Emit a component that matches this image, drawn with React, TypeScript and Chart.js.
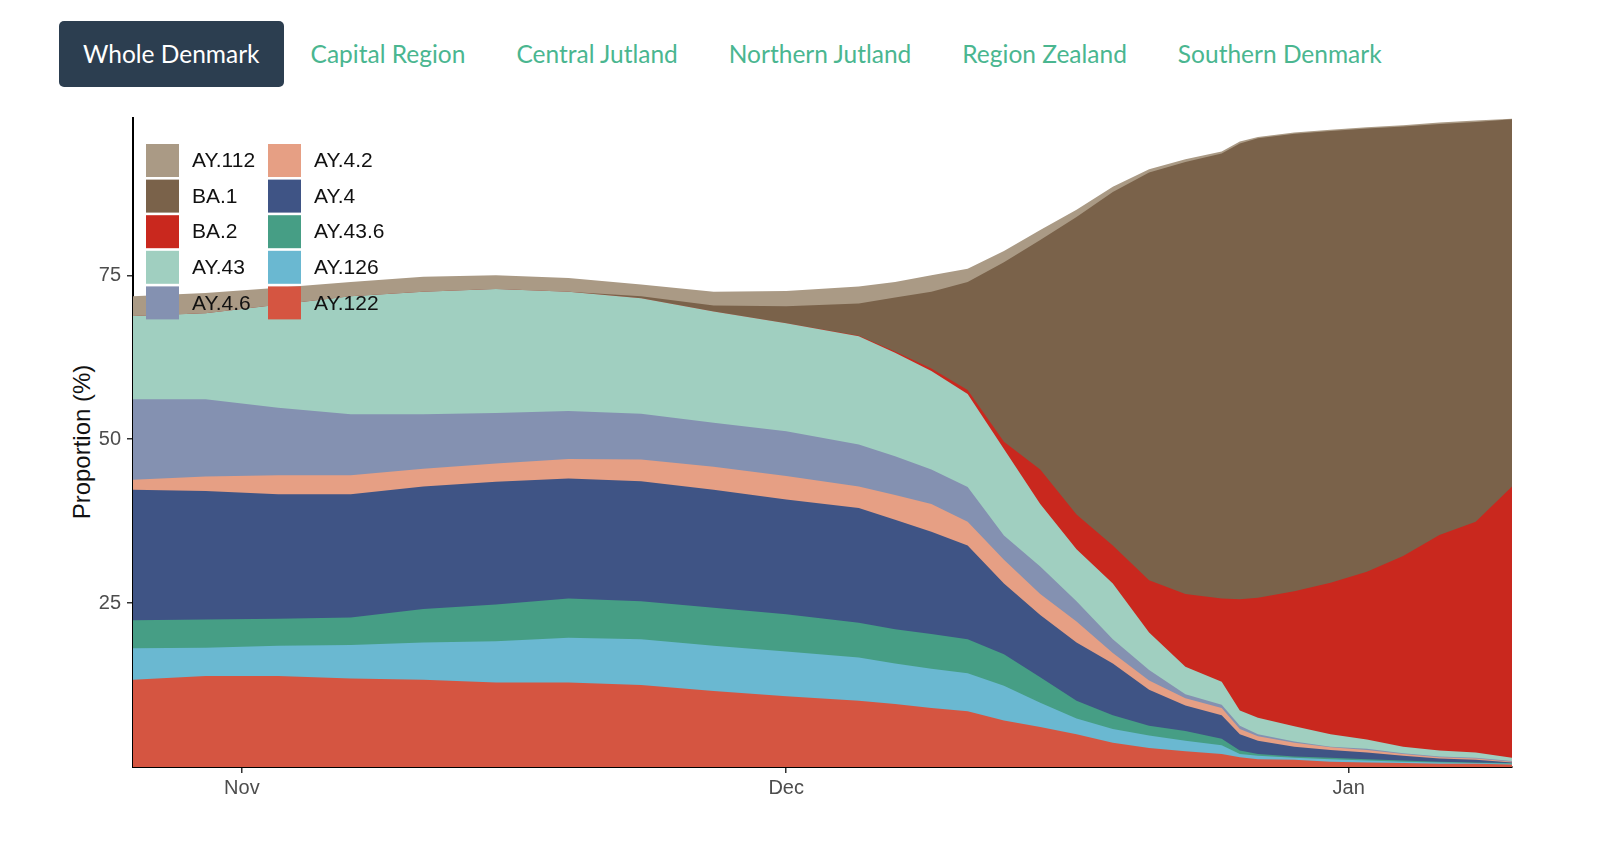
import React, { useEffect, useRef } from "react";
import { Chart, registerables } from "chart.js";

Chart.register(...registerables);

// Region selector
const regions = [
  "Whole Denmark",
  "Capital Region",
  "Central Jutland",
  "Northern Jutland",
  "Region Zealand",
  "Southern Denmark",
];

// Sampling days, counted from 1 November
const days = [-6, -2, 2, 6, 10, 14, 18, 22, 26, 30, 34, 36, 38, 40, 42, 44, 46, 48, 50, 52, 54, 55, 56, 58, 60, 62, 64, 66, 68, 70];

// Month ticks on the x axis
const monthTickDays = [0, 30, 61];
const monthTickLabels = ["Nov", "Dec", "Jan"];

// Y axis ticks (%)
const yTicks = [25, 50, 75];

// Lineage proportions (%), stacked from the bottom up
const ay122 = [13.3, 13.9, 13.9, 13.5, 13.3, 12.9, 12.9, 12.5, 11.6, 10.8, 10.1, 9.6, 9.0, 8.5, 7.1, 6.1, 5.0, 3.7, 2.9, 2.4, 2.0, 1.5, 1.2, 1.1, 0.8, 0.7, 0.6, 0.5, 0.5, 0.4];
const ay126 = [4.8, 4.3, 4.6, 5.1, 5.7, 6.3, 6.8, 7.0, 6.9, 6.8, 6.6, 6.2, 6.0, 5.8, 5.3, 3.7, 2.4, 2.1, 1.9, 1.6, 1.3, 0.5, 0.5, 0.3, 0.4, 0.3, 0.2, 0.2, 0.1, 0.1];
const ay436 = [4.3, 4.3, 4.1, 4.2, 5.1, 5.6, 6.0, 5.8, 5.8, 5.7, 5.3, 5.2, 5.3, 5.2, 4.8, 3.9, 2.7, 2.1, 1.5, 1.5, 1.0, 0.5, 0.3, 0.2, 0.2, 0.2, 0.2, 0.1, 0.1, 0.1];
const ay4 = [19.9, 19.6, 19.0, 18.8, 18.7, 18.7, 18.3, 18.3, 18.0, 17.5, 17.5, 16.7, 15.6, 14.3, 10.8, 9.5, 8.9, 7.9, 5.5, 3.9, 3.6, 2.5, 2.0, 1.5, 1.2, 1.0, 0.7, 0.5, 0.4, 0.1];
const ay42 = [1.5, 2.2, 2.9, 2.9, 2.7, 2.8, 3.0, 3.3, 3.5, 3.6, 3.3, 3.8, 4.2, 3.6, 3.6, 3.2, 3.2, 1.6, 1.4, 1.1, 1.1, 0.8, 0.7, 0.6, 0.4, 0.4, 0.3, 0.2, 0.2, 0.1];
const ay46 = [12.3, 11.8, 10.3, 9.3, 8.3, 7.7, 7.3, 7.0, 6.7, 6.8, 6.4, 5.9, 5.3, 5.3, 3.7, 4.2, 3.1, 2.1, 1.6, 0.6, 0.5, 0.5, 0.3, 0.2, 0.1, 0.2, 0.1, 0.1, 0.1, 0.1];
const ay43 = [12.7, 13.1, 15.7, 18.0, 18.7, 18.9, 18.2, 17.6, 17.0, 16.5, 16.5, 15.8, 15.0, 14.2, 13.2, 9.5, 7.9, 8.5, 5.7, 4.2, 3.5, 2.3, 2.5, 2.3, 1.9, 1.4, 1.0, 0.9, 0.8, 0.5];
const ba2 = [0, 0, 0, 0, 0, 0, 0, 0, 0, 0, 0.1, 0.2, 0.4, 0.6, 1.1, 5.3, 5.3, 5.8, 8.0, 11.1, 12.7, 17.0, 18.3, 20.6, 23.1, 25.6, 29.1, 32.9, 35.2, 41.4];
const ba1 = [0, 0, 0, 0, 0, 0, 0, 0.3, 0.9, 2.6, 4.9, 8.2, 11.7, 16.5, 27.4, 35.0, 45.4, 53.9, 62.2, 65.9, 67.9, 69.5, 70.1, 69.8, 68.9, 67.6, 65.5, 62.7, 61.0, 56.0];
const ay112 = [3.0, 3.1, 2.6, 2.2, 2.3, 2.1, 2.1, 1.8, 2.1, 2.3, 2.6, 2.4, 2.5, 2.0, 1.7, 1.5, 1.1, 0.8, 0.5, 0.4, 0.3, 0.3, 0.2, 0.2, 0.2, 0.2, 0.2, 0.2, 0.2, 0.1];

const lineageNames = ["AY.122", "AY.126", "AY.43.6", "AY.4", "AY.4.2", "AY.4.6", "AY.43", "BA.2", "BA.1", "AY.112"];
const lineageValues = [ay122, ay126, ay436, ay4, ay42, ay46, ay43, ba2, ba1, ay112];
const lineageColors = ["#d55541", "#6ab8d1", "#469e85", "#3f5485", "#e69f84", "#8491b1", "#a0cfc0", "#c9281e", "#7a624a", "#aa9a85"];

const AXIS_FONT = '"Liberation Sans", Arial, Helvetica, sans-serif';

// Two-column key drawn inside the panel, top of the stack first
const stackLegend = {
  id: "stackLegend",
  afterDraw(chart: any) {
    const { ctx, chartArea } = chart;
    const sets = chart.data.datasets.slice().reverse();
    const x0 = chartArea.left + 13;
    const y0 = chartArea.top + 26;
    const colW = 122;
    const rowH = 35.6;
    const box = 33;
    ctx.save();
    ctx.font = `21px ${AXIS_FONT}`;
    ctx.textBaseline = "middle";
    ctx.textAlign = "left";
    sets.forEach((d: any, i: number) => {
      const col = Math.floor(i / 5);
      const row = i % 5;
      const x = x0 + col * colW;
      const y = y0 + row * rowH;
      ctx.fillStyle = d.backgroundColor;
      ctx.fillRect(x, y, box, box);
      ctx.fillStyle = "#111";
      ctx.fillText(d.label, x + 46, y + box / 2 + 1);
    });
    ctx.restore();
  },
};

function StackedChart() {
  const ref = useRef<HTMLCanvasElement>(null);

  useEffect(() => {
    if (!ref.current) return;
    const datasets = lineageNames.map((name, i) => ({
      label: name,
      data: days.map((d, j) => ({ x: d, y: lineageValues[i][j] })),
      backgroundColor: lineageColors[i],
      borderColor: lineageColors[i],
      borderWidth: 0,
      pointRadius: 0,
      tension: 0,
      fill: "origin",
    }));

    const chart = new Chart(ref.current, {
      type: "line",
      data: { datasets },
      plugins: [stackLegend],
      options: {
        responsive: false,
        animation: false,
        devicePixelRatio: 1,
        layout: { padding: { left: 0, right: 88, top: 17, bottom: 0 } },
        plugins: { legend: { display: false }, tooltip: { enabled: false } },
        elements: { line: { borderWidth: 0 } },
        scales: {
          x: {
            type: "linear",
            min: -6,
            max: 70,
            afterBuildTicks: (s: any) => {
              s.ticks = monthTickDays.map((v) => ({ value: v }));
            },
            afterFit: (s: any) => {
              s.height = 80;
            },
            ticks: {
              autoSkip: false,
              maxRotation: 0,
              padding: 3,
              color: "#4d4d4d",
              font: { family: AXIS_FONT, size: 20 },
              callback: (v: any) => monthTickLabels[monthTickDays.indexOf(Number(v))] ?? "",
            },
            grid: { drawOnChartArea: false, drawTicks: true, tickLength: 6, color: "#333", lineWidth: 1.5 },
            border: { display: true, color: "#000", width: 2 },
          },
          y: {
            stacked: true,
            min: 0,
            max: 99,
            afterBuildTicks: (s: any) => {
              s.ticks = yTicks.map((v) => ({ value: v }));
            },
            afterFit: (s: any) => {
              s.width = 133;
            },
            ticks: {
              padding: 6,
              color: "#4d4d4d",
              font: { family: AXIS_FONT, size: 20 },
            },
            grid: { drawOnChartArea: false, drawTicks: true, tickLength: 6, color: "#333", lineWidth: 1.5 },
            border: { display: true, color: "#000", width: 2 },
          },
        },
      },
    } as any);

    return () => chart.destroy();
  }, []);

  return (
    <canvas
      ref={ref}
      width={1600}
      height={747}
      style={{ position: "absolute", left: 0, top: 100, width: 1600, height: 747 }}
    />
  );
}

export default function App() {
  useEffect(() => {
    document.body.style.margin = "0";
    document.body.style.background = "#fff";
  }, []);

  return (
    <div style={{ position: "relative", width: 1600, height: 847, background: "#fff", overflow: "hidden" }}>
      <div
        style={{
          position: "absolute",
          left: 59,
          top: 21,
          display: "flex",
          gap: 3,
          fontFamily: "Lato, 'Open Sans', sans-serif",
          fontSize: 24.5,
        }}
      >
        {regions.map((r, i) => (
          <div
            key={r}
            style={{
              height: 66,
              lineHeight: "66px",
              padding: "0 24px",
              borderRadius: 5,
              background: i === 0 ? "#2c3e50" : "transparent",
              color: i === 0 ? "#ffffff" : "#4ab690",
              whiteSpace: "nowrap",
            }}
          >
            {r}
          </div>
        ))}
      </div>
      <div
        style={{
          position: "absolute",
          left: 82,
          top: 442,
          transform: "translate(-50%, -50%) rotate(-90deg)",
          fontFamily: AXIS_FONT,
          fontSize: 24,
          color: "#111",
          whiteSpace: "nowrap",
        }}
      >
        Proportion (%)
      </div>
      <StackedChart />
    </div>
  );
}
